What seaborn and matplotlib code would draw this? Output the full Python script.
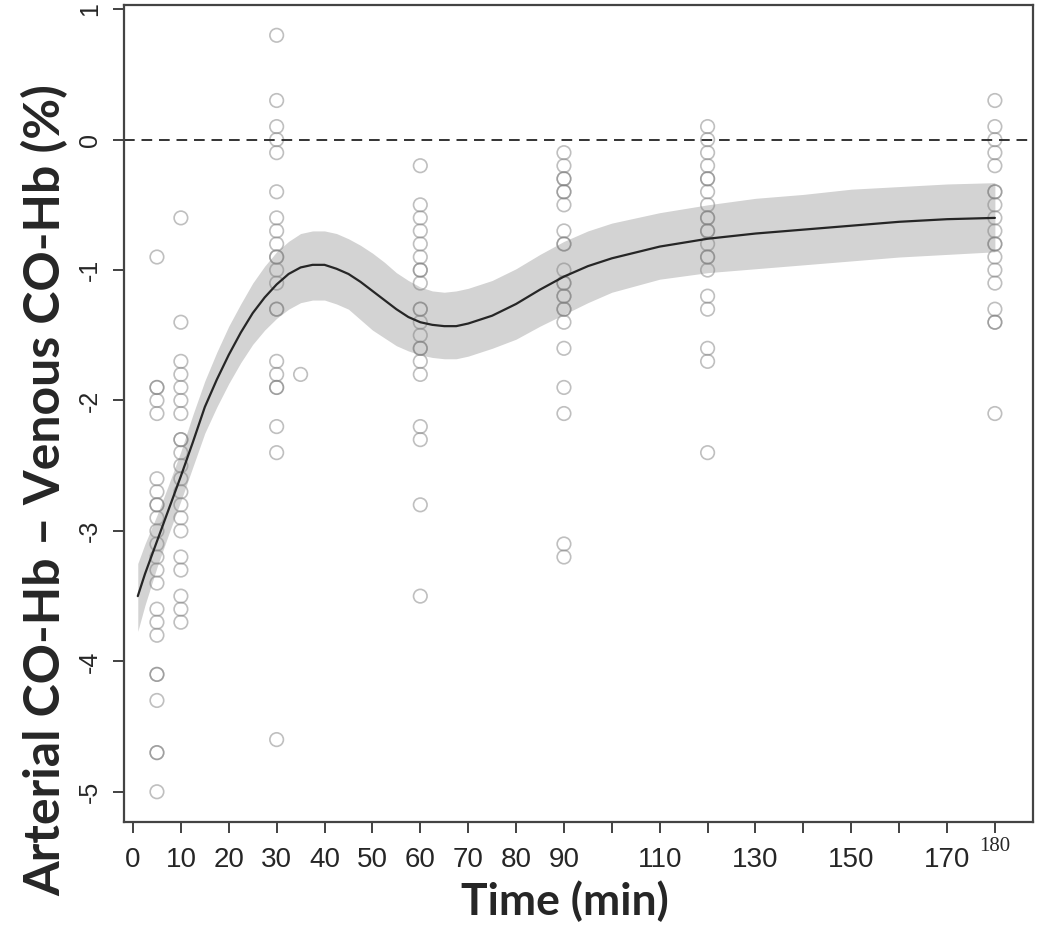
import pandas as pd
import matplotlib
matplotlib.use("Agg")
import matplotlib.pyplot as plt
import seaborn as sns

# observed differences (arterial - venous CO-Hb, %) at each sampling time
t5 = [-0.9, -1.9, -1.9, -2.0, -2.1, -2.6, -2.7, -2.8, -2.8, -2.9, -3.0, -3.1, -3.2,
      -3.3, -3.4, -3.6, -3.7, -3.8, -4.1, -4.1, -4.3, -4.7, -4.7, -5.0]
t10 = [-0.6, -1.4, -1.7, -1.8, -1.9, -2.0, -2.1, -2.3, -2.3, -2.4, -2.5, -2.6, -2.7,
       -2.8, -2.9, -3.0, -3.2, -3.3, -3.5, -3.6, -3.7]
t30 = [0.8, 0.3, 0.1, 0.0, -0.1, -0.4, -0.6, -0.7, -0.8, -0.9, -0.9, -1.0, -1.1, -1.3,
       -1.3, -1.7, -1.8, -1.9, -1.9, -2.2, -2.4, -4.6]
t35 = [-1.8]
t60 = [-0.2, -0.5, -0.6, -0.7, -0.8, -0.9, -1.0, -1.0, -1.1, -1.3, -1.3, -1.4, -1.5,
       -1.6, -1.6, -1.7, -1.8, -2.2, -2.3, -2.8, -3.5]
t90 = [-0.1, -0.2, -0.3, -0.3, -0.4, -0.4, -0.5, -0.7, -0.8, -0.8, -1.0, -1.1, -1.1,
       -1.2, -1.2, -1.3, -1.3, -1.4, -1.6, -1.9, -2.1, -3.1, -3.2]
t120 = [0.1, 0.0, -0.1, -0.2, -0.3, -0.3, -0.4, -0.5, -0.6, -0.6, -0.7, -0.7, -0.8,
        -0.9, -0.9, -1.0, -1.2, -1.3, -1.6, -1.7, -2.4]
t180 = [0.3, 0.1, 0.0, -0.1, -0.2, -0.4, -0.4, -0.5, -0.6, -0.7, -0.8, -0.8, -0.9,
        -1.0, -1.1, -1.3, -1.4, -1.4, -2.1]

# smooth fit with confidence band
fit_time = [1, 2.5, 5, 7.5, 10, 12.5, 15, 17.5, 20, 22.5, 25, 27.5, 30, 32.5, 35, 37.5,
            40, 42.5, 45, 47.5, 50, 52.5, 55, 57.5, 60, 62.5, 65, 67.5, 70, 72.5, 75,
            80, 85, 90, 95, 100, 110, 120, 130, 140, 150, 160, 170, 180]
fit_mid = [-3.50, -3.33, -3.08, -2.83, -2.58, -2.32, -2.05, -1.84, -1.65, -1.48,
           -1.33, -1.21, -1.11, -1.03, -0.98, -0.96, -0.96, -0.99, -1.03, -1.09,
           -1.16, -1.23, -1.30, -1.36, -1.40, -1.42, -1.43, -1.43, -1.41, -1.38,
           -1.35, -1.26, -1.15, -1.05, -0.97, -0.91, -0.82, -0.76, -0.72, -0.69,
           -0.66, -0.63, -0.61, -0.60]
fit_lo = [-3.77, -3.57, -3.28, -3.02, -2.77, -2.51, -2.25, -2.05, -1.87, -1.71,
          -1.57, -1.46, -1.37, -1.30, -1.25, -1.23, -1.23, -1.26, -1.30, -1.38,
          -1.46, -1.52, -1.58, -1.62, -1.65, -1.67, -1.68, -1.68, -1.66, -1.63,
          -1.60, -1.53, -1.43, -1.34, -1.25, -1.17, -1.07, -1.02, -0.99, -0.96,
          -0.93, -0.90, -0.88, -0.86]
fit_hi = [-3.25, -3.10, -2.88, -2.64, -2.39, -2.11, -1.85, -1.63, -1.43, -1.26,
          -1.10, -0.97, -0.86, -0.78, -0.72, -0.70, -0.70, -0.72, -0.76, -0.81,
          -0.87, -0.94, -1.02, -1.08, -1.13, -1.16, -1.17, -1.16, -1.14, -1.11,
          -1.08, -0.99, -0.88, -0.78, -0.70, -0.64, -0.56, -0.50, -0.45, -0.42,
          -0.38, -0.36, -0.34, -0.33]

xticks = list(range(0, 181, 10))
xlabels = ["0", "10", "20", "30", "40", "50", "60", "70", "80", "90", "", "110", "",
           "130", "", "150", "", "170", "180"]
yticks = [1, 0, -1, -2, -3, -4, -5]

groups = {5: t5, 10: t10, 30: t30, 35: t35, 60: t60, 90: t90, 120: t120, 180: t180}
pts = pd.DataFrame([(t, v) for t, vals in groups.items() for v in vals], columns=["time", "diff"])
fit = pd.DataFrame({"time": fit_time, "mid": fit_mid, "lo": fit_lo, "hi": fit_hi})

sns.set_style("ticks")
plt.rcParams["font.family"] = ["Liberation Sans", "DejaVu Sans"]

fig = plt.figure(figsize=(10.5, 9.32), dpi=100)
ax = fig.add_axes([0.118, 0.118, 0.866, 0.8766])

ax.fill_between(fit["time"], fit["lo"], fit["hi"], color="#d3d3d3", lw=0, zorder=1)
sns.lineplot(data=fit, x="time", y="mid", color="#262626", lw=1.6, ax=ax, zorder=3)
sns.scatterplot(data=pts, x="time", y="diff", marker="o", s=95, facecolors="none",
                edgecolor="#808080", linewidth=1.2, alpha=0.5, ax=ax, zorder=2)
ax.axhline(0, color="#333333", lw=1.4, ls=(0, (5.5, 3.5)), zorder=2)

ax.set_xlim(-1.9, 188)
ax.set_ylim(-5.232, 1.032)
ax.set_xticks(xticks)
ax.set_xticklabels(xlabels, family=["Liberation Sans Narrow", "Liberation Sans"], fontsize=20)
lab180 = ax.get_xticklabels()[-1]
lab180.set_family(["Liberation Serif", "DejaVu Serif"])
lab180.set_fontsize(15)
lab180.set_y(0.012)
ax.set_yticks(yticks)
ax.set_yticklabels([str(v) for v in yticks], fontsize=18, rotation=90, va="center")

ax.tick_params(axis="x", length=8, width=1.3, color="#333333", pad=10)
ax.tick_params(axis="y", length=8, width=1.3, color="#333333", pad=8)
for side in ["left", "right", "top", "bottom"]:
    ax.spines[side].set_visible(True)
    ax.spines[side].set_color("#444444")
    ax.spines[side].set_linewidth(1.6)

ax.set_xlabel("Time (min)", family=["Lato", "DejaVu Sans"], fontweight="bold", fontsize=32)
ax.xaxis.set_label_coords(0.485, -0.071)
ax.set_ylabel("Arterial CO-Hb \u2013 Venous CO-Hb (%)", family=["Lato", "DejaVu Sans"],
              fontweight="bold", fontsize=36)
ax.yaxis.set_label_coords(-0.061, 0.406)

fig.savefig("out.png", dpi=100)
